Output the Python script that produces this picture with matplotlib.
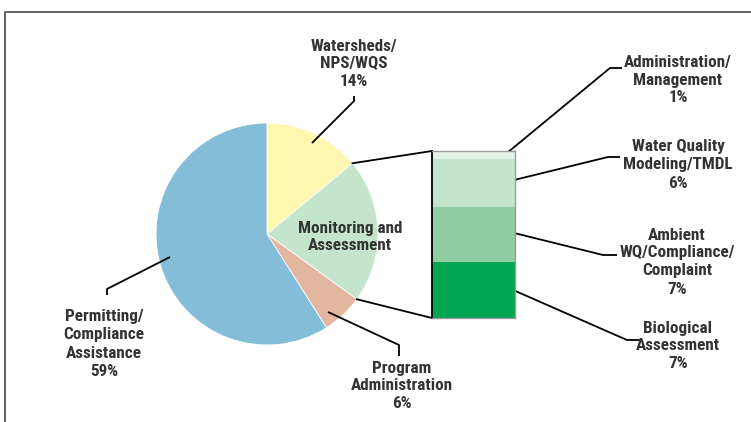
import numpy as np
import matplotlib.pyplot as plt

# pie data (percent)
pie_labels = ['Watersheds/\nNPS/WQS\n14%', 'Monitoring and\nAssessment',
              'Program\nAdministration\n6%', 'Permitting/\nCompliance\nAssistance\n59%']
pie_values = [14, 21, 6, 59]
pie_colors = ['#fff7b0', '#c4e5cc', '#e3b6a0', '#84bdd7']

# breakdown of Monitoring and Assessment, bottom to top
bar_labels = ['Biological\nAssessment\n7%', 'Ambient\nWQ/Compliance/\nComplaint\n7%',
              'Water Quality\nModeling/TMDL\n6%', 'Administration/\nManagement\n1%']
bar_values = [7, 7, 6, 1]
bar_colors = ['#00a651', '#8fcea3', '#c4e5cc', '#e4f3e6']

W, H = 751, 422
plt.rcParams['font.family'] = ['Roboto Condensed', 'DejaVu Sans']
txt = dict(ha='center', va='center', fontsize=12.3, color='#333333',
           fontweight='bold', linespacing=1.25)

fig = plt.figure(figsize=(W / 100, H / 100), dpi=100)
ax = fig.add_axes([0, 0, 1, 1])

cx, cy, r = 267, H - 234, 111
ax.pie(pie_values, colors=pie_colors, startangle=90, counterclock=False,
       center=(cx, cy), radius=r, wedgeprops=dict(linewidth=0.6, edgecolor='white'))
ax.set_xlim(0, W)
ax.set_ylim(0, H)
ax.set_aspect('equal')
ax.axis('off')

# frame (left and top only)
ax.plot([5, 5, W], [0, H - 12, H - 12], color='#555555', lw=1.3)

# bar of the monitoring slice
bx0, bx1, by0, by1 = 432, 515, H - 318, H - 151
bax = fig.add_axes([bx0 / W, by0 / H, (bx1 - bx0) / W, (by1 - by0) / H])
bottom = 0
for v, c in zip(bar_values, bar_colors):
    bax.bar(0, v, bottom=bottom, width=1, color=c, linewidth=0)
    bottom += v
bax.set_xlim(-0.5, 0.5)
bax.set_ylim(0, sum(bar_values))
bax.set_xticks([])
bax.set_yticks([])
for s in ['top', 'right', 'bottom']:
    bax.spines[s].set_color('#9a9a9a')
    bax.spines[s].set_linewidth(1)
bax.spines['left'].set_color('black')
bax.spines['left'].set_linewidth(1.3)

# connectors from monitoring slice edges to bar corners
a_top = np.deg2rad(90 - 360 * pie_values[0] / 100)
a_bot = np.deg2rad(90 - 360 * sum(pie_values[:2]) / 100)
ax.plot([cx + r * np.cos(a_top), bx0], [cy + r * np.sin(a_top), by1], color='black', lw=1.3)
ax.plot([cx + r * np.cos(a_bot), bx0], [cy + r * np.sin(a_bot), by0], color='black', lw=1.3)

def leader(pts):
    xs, ys = zip(*pts)
    ax.plot(xs, [H - y for y in ys], color='black', lw=1.3, solid_capstyle='butt')

# pie labels
ax.text(354, H - 64, pie_labels[0], **txt)
leader([(312, 143), (354, 101), (354, 96)])
ax.text(350, H - 237, pie_labels[1], **txt)
ax.text(402, H - 386, pie_labels[2], **txt)
leader([(328, 312), (399, 345), (399, 356)])
ax.text(104, H - 344, pie_labels[3], **txt)
leader([(170, 257), (107, 289), (107, 295)])

# bar labels
ax.text(678, H - 346, bar_labels[0], **txt)
leader([(504, 286), (627, 340), (640, 340)])
ax.text(677, H - 262, bar_labels[1], **txt)
leader([(506, 231), (603, 255), (617, 255)])
ax.text(678, H - 165, bar_labels[2], **txt)
leader([(506, 182), (608, 157), (620, 157)])
ax.text(678, H - 80, bar_labels[3], **txt)
leader([(507, 153), (610, 68), (622, 68)])

fig.savefig('out.png', dpi=100)
